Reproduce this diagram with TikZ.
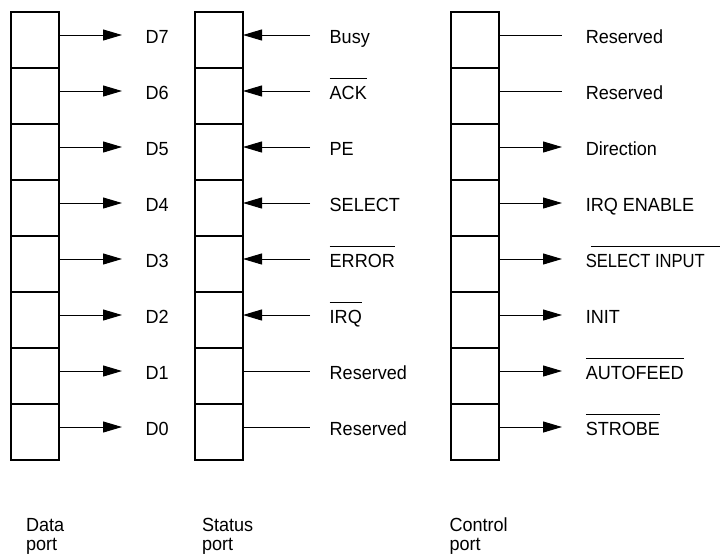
\documentclass[tikz,border=0pt]{standalone}
\usepackage{fontspec}
\usepackage{graphicx}
\setmainfont{Liberation Sans}[FakeStretch=0.95]
\usetikzlibrary{arrows.meta}

% active-low signal name: bar drawn above the capitals
\newcommand\lowsig[1]{\vbox{\hrule height 1pt\kern 7pt\hbox{#1}}}
% same, with the bar shifted right and running on past the text
\newcommand\lowsigwide[1]{\vbox{\offinterlineskip\moveright 5pt\vbox{\hrule width 140pt height 1pt}\kern 7pt\hbox{#1}}}
% two-line caption, anchored on the first baseline
\newcommand\twoline[2]{\vtop{\baselineskip=19pt\hbox{#1}\hbox{#2}}}

\tikzset{
  cell/.style={draw, line width=1.2pt, minimum width=48pt, minimum height=56pt,
               inner sep=0pt, outer sep=0pt, anchor=north west},
  lbl/.style={anchor=base west, inner sep=0pt, outer sep=0pt,
              font=\fontsize{19}{22}\selectfont},
  wire/.style={line width=1pt},
  tip/.style={wire, -{Triangle[length=19pt, width=11pt]}},
}

\begin{document}
\begin{tikzpicture}[x=1pt, y=-1pt]
\useasboundingbox (0,0) rectangle (720,555);

% ---- data port: all eight bits are outputs
\foreach \lab [count=\i from 0] in {D7,D6,D5,D4,D3,D2,D1,D0} {
  \node[cell] (dc\i) at (11,12+56*\i) {};
  \node[lbl]  (dl\i) at (145.6,43.5+56*\i) {\lab};
  \draw[tip, shorten >=23.6pt] ([yshift=5pt]dc\i.east) -- ([yshift=5pt]dc\i.east -| dl\i.west);
}

% ---- status port: six inputs, two reserved bits
\foreach \lab [count=\i from 0] in {Busy,\lowsig{ACK},PE,SELECT,\lowsig{ERROR},\lowsig{IRQ},Reserved,Reserved} {
  \node[cell] (sc\i) at (195,12+56*\i) {};
  \node[lbl]  (sl\i) at (329.7,43.5+56*\i) {\lab};
}
\foreach \i in {0,...,5}
  \draw[tip, shorten <=19.7pt] ([yshift=5pt]sc\i.east -| sl\i.west) -- ([yshift=5pt]sc\i.east);
\foreach \i in {6,7}
  \draw[wire, shorten >=19.7pt] ([yshift=5pt]sc\i.east) -- ([yshift=5pt]sc\i.east -| sl\i.west);

% ---- control port: two reserved bits, six outputs
\foreach \lab [count=\i from 0] in {Reserved,Reserved,Direction,IRQ ENABLE,
    \lowsigwide{\scalebox{0.92}[1]{SELECT INPUT}},INIT,\lowsig{AUTOFEED},\lowsig{STROBE}} {
  \node[cell] (cc\i) at (451,12+56*\i) {};
  \node[lbl]  (cl\i) at (585.8,43.5+56*\i) {\lab};
}
\foreach \i in {0,1}
  \draw[wire, shorten >=23.8pt] ([yshift=5pt]cc\i.east) -- ([yshift=5pt]cc\i.east -| cl\i.west);
\foreach \i in {2,...,7}
  \draw[tip, shorten >=23.8pt] ([yshift=5pt]cc\i.east) -- ([yshift=5pt]cc\i.east -| cl\i.west);

% ---- port captions
\node[lbl] (dport) at (26,531)  {\twoline{Data}{port}};
\node[lbl] (sport) at (202,531) {\twoline{Status}{port}};
\node[lbl] (cport) at (449.5,531) {\twoline{Control}{port}};
\end{tikzpicture}
\end{document}
